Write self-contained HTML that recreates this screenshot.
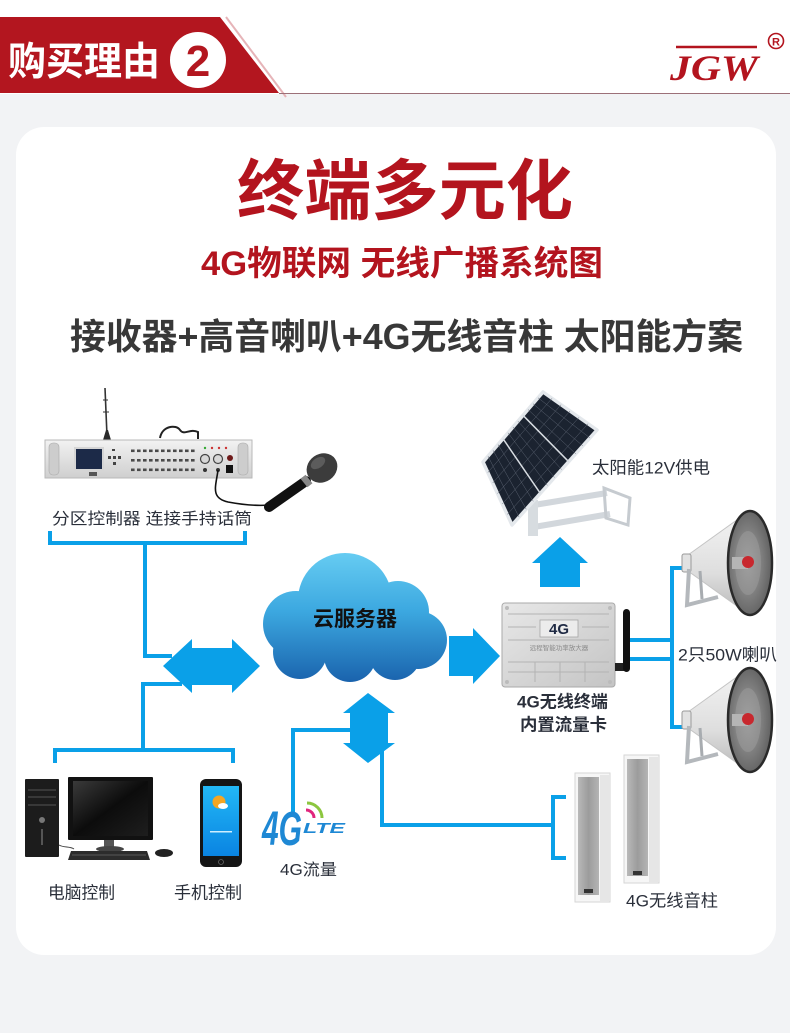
<!DOCTYPE html>
<html><head><meta charset="utf-8">
<style>
html,body{margin:0;padding:0;background:#f2f3f5;}
svg{display:block;}
text{font-family:"Liberation Sans","Noto Sans CJK SC",sans-serif;}
</style></head><body>
<svg width="790" height="1033" viewBox="0 0 790 1033" xmlns="http://www.w3.org/2000/svg">
<defs>
 <linearGradient id="cloudG" x1="0" y1="553" x2="0" y2="682" gradientUnits="userSpaceOnUse">
  <stop offset="0" stop-color="#66ccf2"/>
  <stop offset="0.45" stop-color="#3ca8e0"/>
  <stop offset="1" stop-color="#1a63ad"/>
 </linearGradient>
 <linearGradient id="silverV" x1="0" y1="0" x2="0" y2="1">
  <stop offset="0" stop-color="#f2f2f2"/><stop offset="1" stop-color="#cfcfcf"/>
 </linearGradient>
 <linearGradient id="boxG" x1="0" y1="0" x2="1" y2="1">
  <stop offset="0" stop-color="#e8e8e8"/><stop offset="1" stop-color="#c4c4c4"/>
 </linearGradient>
 <linearGradient id="grille" x1="0" y1="0" x2="1" y2="0">
  <stop offset="0" stop-color="#b9b9b9"/><stop offset="0.5" stop-color="#9c9c9c"/><stop offset="1" stop-color="#b4b4b4"/>
 </linearGradient>
 <linearGradient id="phoneS" x1="0" y1="0" x2="0" y2="1">
  <stop offset="0" stop-color="#22b8f6"/><stop offset="1" stop-color="#0a84e2"/>
 </linearGradient>
 <linearGradient id="monS" x1="0" y1="0" x2="1" y2="1">
  <stop offset="0" stop-color="#3a3a3a"/><stop offset="0.5" stop-color="#0c0c0c"/><stop offset="1" stop-color="#1e1e1e"/>
 </linearGradient>
 <linearGradient id="hornBody" x1="0" y1="0" x2="0" y2="1">
  <stop offset="0" stop-color="#f4f4f4"/><stop offset="0.6" stop-color="#dedede"/><stop offset="1" stop-color="#b8b8b8"/>
 </linearGradient>
 <radialGradient id="bellIn" cx="0.45" cy="0.5" r="0.6">
  <stop offset="0" stop-color="#a8a8a8"/><stop offset="1" stop-color="#5a5a5a"/>
 </radialGradient>
 <pattern id="btn" x="130" y="447" width="6" height="9.5" patternUnits="userSpaceOnUse">
  <rect x="1" y="2.5" width="3.6" height="2.6" fill="#4a4a4a"/>
 </pattern>
 <g id="horn">
  <polygon points="0,-8 60,-51 60,51 0,8" fill="url(#hornBody)" stroke="#c4c4c4" stroke-width="1"/>
  <ellipse cx="62" cy="0" rx="22" ry="52" fill="url(#bellIn)" stroke="#2a2a2a" stroke-width="2.5"/>
  <ellipse cx="60" cy="0" rx="13" ry="32" fill="#9a9a9a" opacity="0.6"/>
  <rect x="44" y="-6" width="16" height="12" fill="#b5b5b5"/>
  <circle cx="60" cy="-1" r="6" fill="#c8282e"/>
  <rect x="-6" y="-9" width="9" height="18" rx="2" fill="#e2e2e2" stroke="#9a9a9a" stroke-width="1"/>
  <polyline points="1,6 -1,42 30,34" fill="none" stroke="#b4b8bc" stroke-width="4"/>
  <line x1="12" y1="8" x2="14" y2="36" stroke="#a8acb0" stroke-width="3"/>
 </g>
</defs>

<!-- background -->
<rect x="0" y="0" width="790" height="1033" fill="#f2f3f5"/>
<rect x="0" y="0" width="790" height="94" fill="#ffffff"/>

<!-- header banner -->
<polygon points="0,17 220,17 279,93 0,93" fill="#b3161f"/>
<line x1="226" y1="17" x2="286" y2="97" stroke="#e6b4b8" stroke-width="2"/>
<line x1="279" y1="93.5" x2="790" y2="93.5" stroke="#9c7078" stroke-width="1"/>
<text x="8" y="75" font-size="39" font-weight="bold" fill="#ffffff" textLength="152" lengthAdjust="spacingAndGlyphs">购买理由</text>
<circle cx="198" cy="60" r="28" fill="#ffffff"/>
<text x="198" y="76" font-size="44" font-weight="bold" fill="#b3161f" text-anchor="middle">2</text>

<!-- logo -->
<line x1="676" y1="47" x2="757" y2="47" stroke="#b3141e" stroke-width="2.5"/>
<text x="670" y="80" font-size="36" font-style="italic" font-weight="bold" fill="#b3141e" textLength="88" lengthAdjust="spacingAndGlyphs" style="font-family:'Liberation Serif',serif">JGW</text>
<circle cx="776" cy="41" r="7.5" fill="none" stroke="#b3141e" stroke-width="1.6"/>
<text x="776" y="45.5" font-size="11" font-weight="bold" fill="#b3141e" text-anchor="middle">R</text>

<!-- card -->
<rect x="16" y="127" width="760" height="828" rx="28" fill="#ffffff"/>

<!-- titles -->
<text x="405" y="214" font-size="66" font-weight="bold" fill="#b3141e" text-anchor="middle" textLength="336" lengthAdjust="spacingAndGlyphs">终端多元化</text>
<text x="201" y="275" font-size="34" font-weight="bold" fill="#b3141e" textLength="402" lengthAdjust="spacingAndGlyphs">4G物联网 无线广播系统图</text>
<text x="70" y="349" font-size="36" font-weight="bold" fill="#383838" textLength="673" lengthAdjust="spacingAndGlyphs">接收器+高音喇叭+4G无线音柱 太阳能方案</text>

<!-- ===== controller device ===== -->
<line x1="105" y1="388" x2="107" y2="436" stroke="#333" stroke-width="1.6"/>
<line x1="103" y1="400" x2="108" y2="400" stroke="#333" stroke-width="1"/>
<line x1="103" y1="412" x2="109" y2="412" stroke="#333" stroke-width="1"/>
<polygon points="103,440 111,440 108,430 106,430" fill="#2a2a2a"/>
<path d="M160,438 C162,426 176,424 180,430 C184,436 190,428 198,432 L198,439" fill="none" stroke="#222" stroke-width="2"/>
<rect x="45" y="440" width="207" height="38" fill="url(#silverV)" stroke="#b9b9b9" stroke-width="1"/>
<rect x="49" y="443" width="10" height="32" rx="4" fill="#cdcdcd" stroke="#aaa" stroke-width="0.6"/>
<rect x="238" y="443" width="10" height="32" rx="4" fill="#cdcdcd" stroke="#aaa" stroke-width="0.6"/>
<rect x="74" y="447" width="30" height="24" fill="#d5d5d5"/>
<rect x="76" y="449" width="26" height="20" fill="#1c2a48"/>
<rect x="89" y="472" width="8" height="4" fill="#555"/>
<rect x="112" y="449" width="3" height="2" fill="#444"/>
<rect x="108" y="456" width="3" height="3" fill="#444"/>
<rect x="113" y="456" width="3" height="3" fill="#444"/>
<rect x="118" y="456" width="3" height="3" fill="#444"/>
<rect x="113" y="462" width="3" height="3" fill="#444"/>
<rect x="130" y="447" width="67" height="28" fill="url(#btn)"/>
<circle cx="205" cy="448" r="1.2" fill="#3a3"/>
<circle cx="212" cy="448" r="1.2" fill="#c33"/>
<circle cx="219" cy="448" r="1.2" fill="#c33"/>
<circle cx="226" cy="448" r="1.2" fill="#c33"/>
<circle cx="205" cy="459" r="4.5" fill="#d8d8d8" stroke="#444" stroke-width="1.2"/>
<circle cx="218" cy="459" r="4.5" fill="#d8d8d8" stroke="#444" stroke-width="1.2"/>
<circle cx="205" cy="470" r="2" fill="#333"/>
<circle cx="218" cy="470" r="2" fill="#333"/>
<circle cx="230" cy="458" r="3" fill="#6e1a1a"/>
<rect x="226" y="465" width="7" height="8" fill="#111"/>
<!-- mic -->
<path d="M218,470 C216,486 210,498 228,502 C244,505 258,506 270,505" fill="none" stroke="#111" stroke-width="1.6"/>
<line x1="269" y1="507" x2="306" y2="481" stroke="#111" stroke-width="10" stroke-linecap="round"/>
<line x1="304" y1="483" x2="309" y2="479" stroke="#888" stroke-width="11"/>
<ellipse cx="322" cy="468" rx="16" ry="14" transform="rotate(-35 322 468)" fill="#3c3c3c"/>
<ellipse cx="318" cy="463" rx="8" ry="5" transform="rotate(-35 318 463)" fill="#6a6a6a" opacity="0.7"/>

<text x="52" y="524" font-size="16" fill="#2a2f3a" textLength="200" lengthAdjust="spacingAndGlyphs">分区控制器  连接手持话筒</text>

<!-- ===== blue connectors ===== -->
<g fill="none" stroke="#0aa0e8" stroke-width="4">
 <path d="M50,531 V543 H245 V531"/>
 <path d="M145,543 V656 H172"/>
 <path d="M182,684 H143 V750"/>
 <path d="M55,763 V750 H233 V763"/>
 <path d="M293,812 V730 H354"/>
 <path d="M382,748 V825 H553"/>
 <path d="M566,797 H553 V858 H566"/>
 <path d="M630,640 H672"/>
 <path d="M630,659 H672"/>
 <path d="M687,568 H672 V727 H691"/>
</g>
<g fill="#0aa0e8">
 <polygon points="163,666 192,639 192,648 232,648 232,639 260,666 232,693 232,685 192,685 192,693"/>
 <polygon points="368,693 395,713 388,713 388,743 395,743 368,763 343,743 350,743 350,713 343,713"/>
 <polygon points="449,636 473,636 473,628 500,656 473,684 473,676 449,676"/>
 <polygon points="560,537 588,563 580,563 580,587 540,587 540,563 532,563"/>
</g>

<!-- ===== cloud ===== -->
<g fill="url(#cloudG)">
 <circle cx="345" cy="600" r="47"/>
 <circle cx="398" cy="612" r="31"/>
 <circle cx="296" cy="624" r="33"/>
 <circle cx="418" cy="640" r="29"/>
 <circle cx="300" cy="652" r="27"/>
 <circle cx="350" cy="656" r="26"/>
 <circle cx="395" cy="654" r="26"/>
 <rect x="290" y="610" width="130" height="50"/>
</g>
<text x="355" y="626" font-size="21" font-weight="bold" fill="#111" text-anchor="middle">云服务器</text>

<!-- ===== solar ===== -->
<line x1="534" y1="505" x2="607" y2="493" stroke="#d2d7dc" stroke-width="6"/>
<line x1="534" y1="527" x2="610" y2="514" stroke="#d2d7dc" stroke-width="6"/>
<rect x="528" y="500" width="10" height="36" fill="#d7dce0"/>
<polygon points="604,488 630,498 628,525 606,518" fill="none" stroke="#c6cbd0" stroke-width="3"/>
<polygon points="543,392 597,430 512,525 483,462" fill="#1b2330" stroke="#e4e8ec" stroke-width="3.5" stroke-linejoin="round"/>
<g stroke="#5a6270" stroke-width="0.5">
 <line x1="552" y1="398.3" x2="487.8" y2="472.5"/>
 <line x1="561" y1="404.7" x2="492.7" y2="483"/>
 <line x1="570" y1="411" x2="497.5" y2="493.5"/>
 <line x1="579" y1="417.3" x2="502.3" y2="504"/>
 <line x1="588" y1="423.7" x2="507.2" y2="514.5"/>
 <line x1="538" y1="397.8" x2="589.9" y2="437.9"/>
 <line x1="533" y1="403.7" x2="582.8" y2="445.8"/>
 <line x1="528" y1="409.5" x2="575.8" y2="453.8"/>
 <line x1="518" y1="421.2" x2="561.6" y2="469.6"/>
 <line x1="513" y1="427" x2="554.5" y2="477.5"/>
 <line x1="508" y1="432.8" x2="547.4" y2="485.4"/>
 <line x1="498" y1="444.5" x2="533.3" y2="501.3"/>
 <line x1="493" y1="450.3" x2="526.2" y2="509.2"/>
 <line x1="488" y1="456.2" x2="519.1" y2="517.1"/>
</g>
<line x1="523" y1="415.3" x2="568.7" y2="461.7" stroke="#d8dde2" stroke-width="1.5"/>
<line x1="503" y1="438.7" x2="540.3" y2="493.3" stroke="#d8dde2" stroke-width="1.5"/>
<text x="592" y="473.5" font-size="17" fill="#2a2f3a" textLength="118" lengthAdjust="spacingAndGlyphs">太阳能12V供电</text>

<!-- ===== terminal box ===== -->
<rect x="502" y="603" width="113" height="84" rx="3" fill="url(#boxG)" stroke="#aaaaaa" stroke-width="1"/>
<g stroke="#b3b3b3" stroke-width="1">
 <line x1="508" y1="614" x2="609" y2="614"/>
 <line x1="508" y1="627" x2="536" y2="627"/>
 <line x1="582" y1="627" x2="609" y2="627"/>
 <line x1="508" y1="640" x2="609" y2="640"/>
 <line x1="508" y1="662" x2="609" y2="662"/>
 <line x1="508" y1="672" x2="609" y2="672"/>
 <line x1="535" y1="662" x2="535" y2="682"/>
 <line x1="560" y1="662" x2="560" y2="682"/>
 <line x1="585" y1="662" x2="585" y2="682"/>
</g>
<circle cx="507" cy="608" r="2" fill="#bbb"/><circle cx="610" cy="608" r="2" fill="#bbb"/>
<circle cx="507" cy="682" r="2" fill="#bbb"/><circle cx="610" cy="682" r="2" fill="#bbb"/>
<rect x="540" y="620" width="38" height="17" fill="#ececec" stroke="#a5a5a5" stroke-width="0.8"/>
<text x="559" y="634" font-size="15" font-weight="bold" fill="#1f2a44" text-anchor="middle">4G</text>
<text x="559" y="650" font-size="6.5" fill="#8a8a8a" text-anchor="middle">远程智能功率放大器</text>
<rect x="615" y="663" width="10" height="8" fill="#222"/>
<rect x="623" y="609" width="7" height="63" rx="3.5" fill="#111"/>
<text x="517" y="707.5" font-size="17" font-weight="bold" fill="#2a2f3a" textLength="91" lengthAdjust="spacingAndGlyphs">4G无线终端</text>
<text x="520" y="730.5" font-size="17" font-weight="bold" fill="#2a2f3a" textLength="87" lengthAdjust="spacingAndGlyphs">内置流量卡</text>

<!-- ===== horns ===== -->
<use href="#horn" x="688" y="563"/>
<use href="#horn" x="688" y="720"/>
<text x="678" y="660.5" font-size="17" fill="#2a2f3a" textLength="99" lengthAdjust="spacingAndGlyphs">2只50W喇叭</text>

<!-- ===== column speakers ===== -->
<rect x="575" y="773" width="35" height="129" fill="#f6f6f6" stroke="#d6d6d6" stroke-width="1"/>
<rect x="578" y="777" width="21" height="118" fill="url(#grille)"/>
<rect x="600" y="775" width="9" height="126" fill="#e6e6e6"/>
<rect x="584" y="889" width="9" height="4" fill="#333"/>
<rect x="624" y="755" width="35" height="128" fill="#f6f6f6" stroke="#d6d6d6" stroke-width="1"/>
<rect x="627" y="759" width="21" height="117" fill="url(#grille)"/>
<rect x="649" y="757" width="9" height="125" fill="#e6e6e6"/>
<rect x="633" y="871" width="9" height="4" fill="#333"/>
<text x="626" y="906.5" font-size="17" fill="#2a2f3a" textLength="92" lengthAdjust="spacingAndGlyphs">4G无线音柱</text>

<!-- ===== computer ===== -->
<rect x="25" y="779" width="34" height="78" rx="1" fill="#1c1c1c"/>
<line x1="28" y1="790" x2="56" y2="790" stroke="#4a4a4a" stroke-width="1.2"/>
<line x1="28" y1="797" x2="56" y2="797" stroke="#4a4a4a" stroke-width="1.2"/>
<line x1="28" y1="805" x2="56" y2="805" stroke="#4a4a4a" stroke-width="1.2"/>
<circle cx="42" cy="820" r="3" fill="#777"/>
<rect x="41" y="829" width="2" height="16" fill="#555"/>
<rect x="68" y="777" width="85" height="63" rx="1" fill="#111"/>
<rect x="73" y="781" width="75" height="55" fill="url(#monS)"/>
<rect x="104" y="840" width="10" height="8" fill="#555"/>
<ellipse cx="110" cy="849" rx="14" ry="3" fill="#444"/>
<polygon points="71,851 147,851 150,860 68,860" fill="#2c2c2c"/>
<line x1="72" y1="855" x2="146" y2="855" stroke="#666" stroke-width="0.7"/>
<ellipse cx="164" cy="853" rx="9" ry="4" fill="#222"/>
<path d="M59,845 C64,848 70,846 74,849" fill="none" stroke="#444" stroke-width="1"/>

<!-- phone -->
<rect x="200" y="779" width="42" height="88" rx="6" fill="#151515"/>
<rect x="203" y="786" width="36" height="70" fill="url(#phoneS)"/>
<circle cx="219" cy="802" r="6.5" fill="#f5a623"/>
<ellipse cx="223" cy="806" rx="5" ry="3" fill="#ffffff"/>
<rect x="210" y="831" width="22" height="1.5" fill="#cfeeff"/>
<circle cx="221" cy="862" r="2.5" fill="none" stroke="#666" stroke-width="0.8"/>
<text x="48" y="898.5" font-size="17" fill="#2a2f3a" textLength="67" lengthAdjust="spacingAndGlyphs">电脑控制</text>
<text x="174" y="898.5" font-size="17" fill="#2a2f3a" textLength="68" lengthAdjust="spacingAndGlyphs">手机控制</text>

<!-- 4G LTE logo -->
<path d="M306,810 A8,8 0 0,1 314,818" fill="none" stroke="#e0267d" stroke-width="3"/>
<path d="M307,803 A15,15 0 0,1 322,818" fill="none" stroke="#8cc63f" stroke-width="3"/>
<text x="262" y="845" font-size="48" font-style="italic" font-weight="bold" fill="#1e88d4" textLength="40" lengthAdjust="spacingAndGlyphs">4G</text>
<text x="303" y="833" font-size="15" font-style="italic" font-weight="bold" fill="#1e88d4" textLength="42" lengthAdjust="spacingAndGlyphs">LTE</text>
<text x="280" y="875" font-size="16" fill="#2a2f3a" textLength="57" lengthAdjust="spacingAndGlyphs">4G流量</text>
</svg>
</body></html>
